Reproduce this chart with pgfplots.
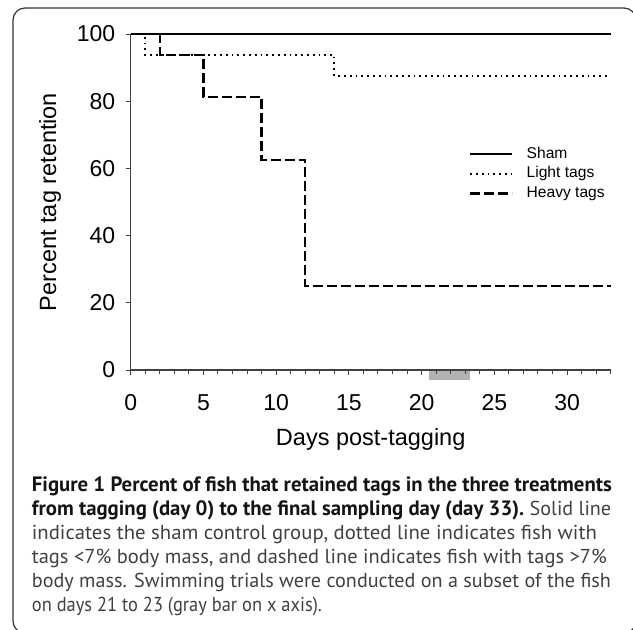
\documentclass[border=0pt]{standalone}
\usepackage{pgfplots}
\pgfplotsset{compat=1.18}
\usepackage{fontspec}
\setmainfont{Liberation Sans}
\newfontfamily\capfont{PT Sans}
\usepackage{graphicx}
\newlength{\capW}
\newlength{\capWB}
\newlength{\tmpW}
\newcommand\capsize{\fontsize{18bp}{22bp}\selectfont}
\newcommand\capline[2]{%
  \settowidth{\tmpW}{\capfont\capsize #2}%
  \pgfmathsetmacro{\hs}{#1*1.00375/\tmpW}%
  \scalebox{\hs}[\capS]{\capfont\capsize #2}}
\begin{document}%
\settowidth{\capW}{\capfont\capsize body mass. Swimming trials were conducted on a subset of the fish}%
\settowidth{\capWB}{\capfont\bfseries\capsize Figure 1 Percent of fish that retained tags in the three treatments}%
\pgfmathsetmacro{\capS}{579*1.00375/\capW}%
\pgfmathsetmacro{\capB}{580*1.00375/\capWB}%
\begin{tikzpicture}
\useasboundingbox (0bp,0bp) rectangle (633bp,-630bp);
\begin{scope}
\clip (0bp,0bp) rectangle (633bp,-630bp);
\draw[line width=1.2bp, black!80, rounded corners=12bp] (13bp,-8bp) rectangle (636bp,-633bp);
\end{scope}
\begin{axis}[
  at={(130.7bp,-370bp)}, anchor=south west,
  scale only axis, width=480bp, height=336bp,
  xmin=0, xmax=33, ymin=0, ymax=100,
  axis x line=bottom, axis y line=left,
  axis line style={-, line width=1.2bp, black!75},
  xtick={0,5,...,30}, minor xtick={0,1,...,33},
  ytick={0,20,...,100},
  tick align=outside,
  major tick length=5bp, minor tick length=4bp,
  every tick/.style={black!75, line width=1bp},
  ticklabel style={font=\fontsize{23bp}{26bp}\selectfont},
  xticklabel style={yshift=-16bp},
  yticklabel style={xshift=-7bp},
  /pgf/number format/assume math mode=true,
  xlabel={Days post-tagging}, ylabel={Percent tag retention},
  label style={font=\fontsize{23.5bp}{26bp}\selectfont},
  xlabel style={at={(axis description cs:0.5,-0.208)}, anchor=center},
  ylabel style={at={(axis description cs:-0.168,0.5)}, anchor=center},
  clip=false, axis on top,
  legend style={draw=none, fill=none, font=\fontsize{15.6bp}{18bp}\selectfont,
    at={(axis cs:23.24,67.2)}, anchor=north west, inner sep=0pt, row sep=0pt,
    nodes={text height=11bp, text depth=3bp, inner sep=2.85bp},
    /tikz/every odd column/.append style={column sep=10.5bp}},
  legend cell align=left,
  legend image code/.code={\draw[#1] (0bp,0bp) -- (42bp,0bp);},
]
\addplot[forget plot, fill=black!30, draw=none] coordinates {(20.5,0) (23.3,0) (23.3,-3) (20.5,-3)} -- cycle;
\addplot[const plot, black, line width=2.4bp] coordinates {(0,100) (33,100)};
\addlegendentry{Sham}
\addplot[const plot, black, line width=2bp, dash pattern=on 1.8bp off 4bp] coordinates {(0,100) (1,93.75) (14,87.5) (33,87.5)};
\addlegendentry{Light tags}
\addplot[const plot, black, line width=2.4bp, dash pattern=on 10bp off 4bp] coordinates {(0,100) (2,93.75) (5,81.25) (9,62.5) (12,25) (33,25)};
\addlegendentry{Heavy tags}
\end{axis}
\begin{scope}[every node/.style={anchor=base west, inner sep=0pt}]
\node[black!92] at (31.7bp,-491bp) {\scalebox{\capB}{\capfont\bfseries\capsize Figure 1 Percent of fish that retained tags in the three treatments}};
\node at (31.7bp,-515bp) {\scalebox{\capB}{\color{black!92}\capfont\bfseries\capsize from tagging (day 0) to the final sampling day (day 33).}\scalebox{\capS}{\color{black!75}\capfont\capsize\ Solid line}};
\node[black!75] at (31.7bp,-539bp) {\capline{565}{indicates the sham control group, dotted line indicates fish with}};
\node[black!75] at (31.7bp,-563bp) {\capline{575}{tags <7\% body mass, and dashed line indicates fish with tags >7\%}};
\node[black!75] at (31.7bp,-587bp) {\capline{579}{body mass. Swimming trials were conducted on a subset of the fish}};
\node[black!75] at (31.7bp,-611bp) {\capline{290}{on days 21 to 23 (gray bar on x axis).}};
\end{scope}
\end{tikzpicture}
\end{document}
